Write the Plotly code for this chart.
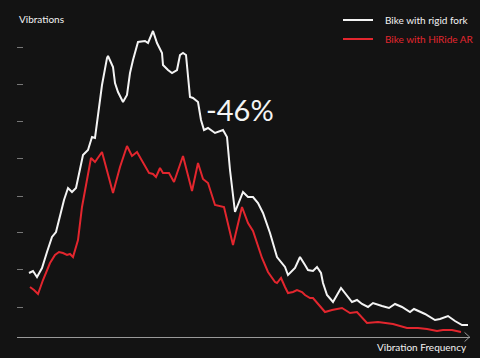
import plotly.graph_objects as go

# Frequency (arbitrary units) and vibration amplitude (arbitrary units)
rigid_freq = [12, 16, 20, 25, 30, 35, 39, 43, 47, 51, 55, 59, 63, 66, 71, 74, 75, 78, 81, 85,
              90, 91, 96, 98, 101, 106, 110, 113, 116, 121, 128, 131, 136, 140, 145, 146, 151, 155, 160, 163,
              166, 169, 173, 176, 181, 184, 187, 191, 198, 206, 210, 213, 218, 226, 231, 236, 241, 246, 253, 260,
              268, 271, 278, 283, 288, 291, 296, 300, 304, 306, 310, 316, 324, 328, 335, 340, 345, 351, 356, 365,
              372, 378, 385, 393, 397, 408, 418, 423, 431, 438, 445, 451]
rigid_vib = [64, 66, 60, 69, 85, 100, 105, 122, 137, 149, 145, 149, 167, 182, 187, 197, 200, 199, 220, 252,
             279, 281, 270, 254, 245, 235, 242, 264, 277, 295, 296, 294, 306, 294, 284, 272, 267, 264, 267, 282,
             284, 282, 240, 239, 235, 217, 207, 209, 204, 207, 200, 167, 125, 145, 140, 140, 134, 124, 104, 80,
             70, 62, 69, 80, 72, 67, 66, 70, 64, 54, 42, 35, 49, 44, 35, 37, 33, 30, 34, 31,
             29, 33, 30, 25, 28, 23, 17, 18, 21, 16, 12, 12]

hiride_freq = [13, 17, 21, 26, 33, 38, 42, 46, 50, 53, 56, 61, 65, 70, 74, 78, 85, 96, 103, 110,
               115, 120, 126, 132, 136, 139, 143, 146, 152, 157, 166, 175, 181, 186, 191, 198, 207, 216, 225, 231,
               236, 245, 251, 258, 260, 264, 268, 271, 276, 280, 285, 288, 293, 296, 308, 315, 325, 333, 340, 350,
               361, 376, 390, 401, 410, 420, 426, 435, 444]
hiride_vib = [50, 47, 43, 57, 74, 82, 85, 84, 82, 83, 80, 97, 130, 157, 179, 175, 185, 144, 170, 191,
              181, 185, 174, 164, 163, 160, 169, 164, 164, 155, 181, 146, 174, 158, 154, 132, 130, 92, 130, 114,
              106, 79, 65, 55, 54, 59, 50, 44, 45, 47, 45, 42, 39, 39, 25, 27, 29, 24, 25, 14,
              15, 13, 9, 9, 8, 6, 7, 7, 5]

y_ticks = [30, 68, 105, 141, 179, 216, 253, 290]

series_names = ["Bike with rigid fork", "Bike with HiRide AR"]

BG = "#131313"
WHITE = "#f4f4f4"
RED = "#e3262e"
GREY = "#9a9a9a"
FONT = "Lato"
colors = [WHITE, RED]

fig = go.Figure()
fig.add_trace(go.Scatter(x=rigid_freq, y=rigid_vib, mode="lines",
                         name=series_names[0], line=dict(color=WHITE, width=2)))
fig.add_trace(go.Scatter(x=hiride_freq, y=hiride_vib, mode="lines",
                         name=series_names[1], line=dict(color=RED, width=2)))

annotations = [
    dict(text="Vibrations", xref="paper", yref="paper", x=0.0, y=0.9725,
         xanchor="left", yanchor="middle", showarrow=False,
         font=dict(size=10, color=WHITE, family=FONT)),
    dict(text="Vibration Frequency", xref="paper", yref="paper", x=0.998, y=-0.031,
         xanchor="right", yanchor="middle", showarrow=False,
         font=dict(size=10, color=WHITE, family=FONT)),
    dict(text="-46%", xref="paper", yref="paper", x=0.413, y=0.697,
         xanchor="left", yanchor="middle", showarrow=False,
         font=dict(size=29, color=WHITE, family=FONT)),
]
shapes = [
    dict(type="path", xref="paper", yref="paper",
         path="M 0.988,0.014 L 0.999,0 L 0.988,-0.014",
         line=dict(color=GREY, width=1)),
]
# custom legend (lines + texts) in the top-right corner
legend_y = [0.9694, 0.9113]
for name, col, ly in zip(series_names, colors, legend_y):
    shapes.append(dict(type="line", xref="paper", yref="paper",
                       x0=0.7196, x1=0.7859, y0=ly, y1=ly,
                       line=dict(color=col, width=2)))
    annotations.append(dict(text=name, xref="paper", yref="paper", x=0.808, y=ly,
                            xanchor="left", yanchor="middle", showarrow=False,
                            font=dict(size=10, color=col, family=FONT)))

fig.update_layout(
    width=480, height=358,
    margin=dict(l=17, r=10, t=10, b=21),
    paper_bgcolor=BG, plot_bgcolor=BG,
    font=dict(family=FONT, size=10, color=WHITE),
    showlegend=False,
    xaxis=dict(range=[0, 453], showgrid=False, zeroline=False, showticklabels=False,
               ticks="", showline=True, linecolor=GREY, linewidth=1, fixedrange=True),
    yaxis=dict(range=[0, 327], showgrid=False, zeroline=False, showticklabels=False,
               tickvals=y_ticks, ticks="inside", ticklen=6, tickwidth=1, tickcolor="#777777",
               showline=False, fixedrange=True),
    annotations=annotations,
    shapes=shapes,
)

fig.write_html("out.html", config={"displayModeBar": False},
               post_script="document.body.style.margin='0px';document.body.style.padding='0px';")
